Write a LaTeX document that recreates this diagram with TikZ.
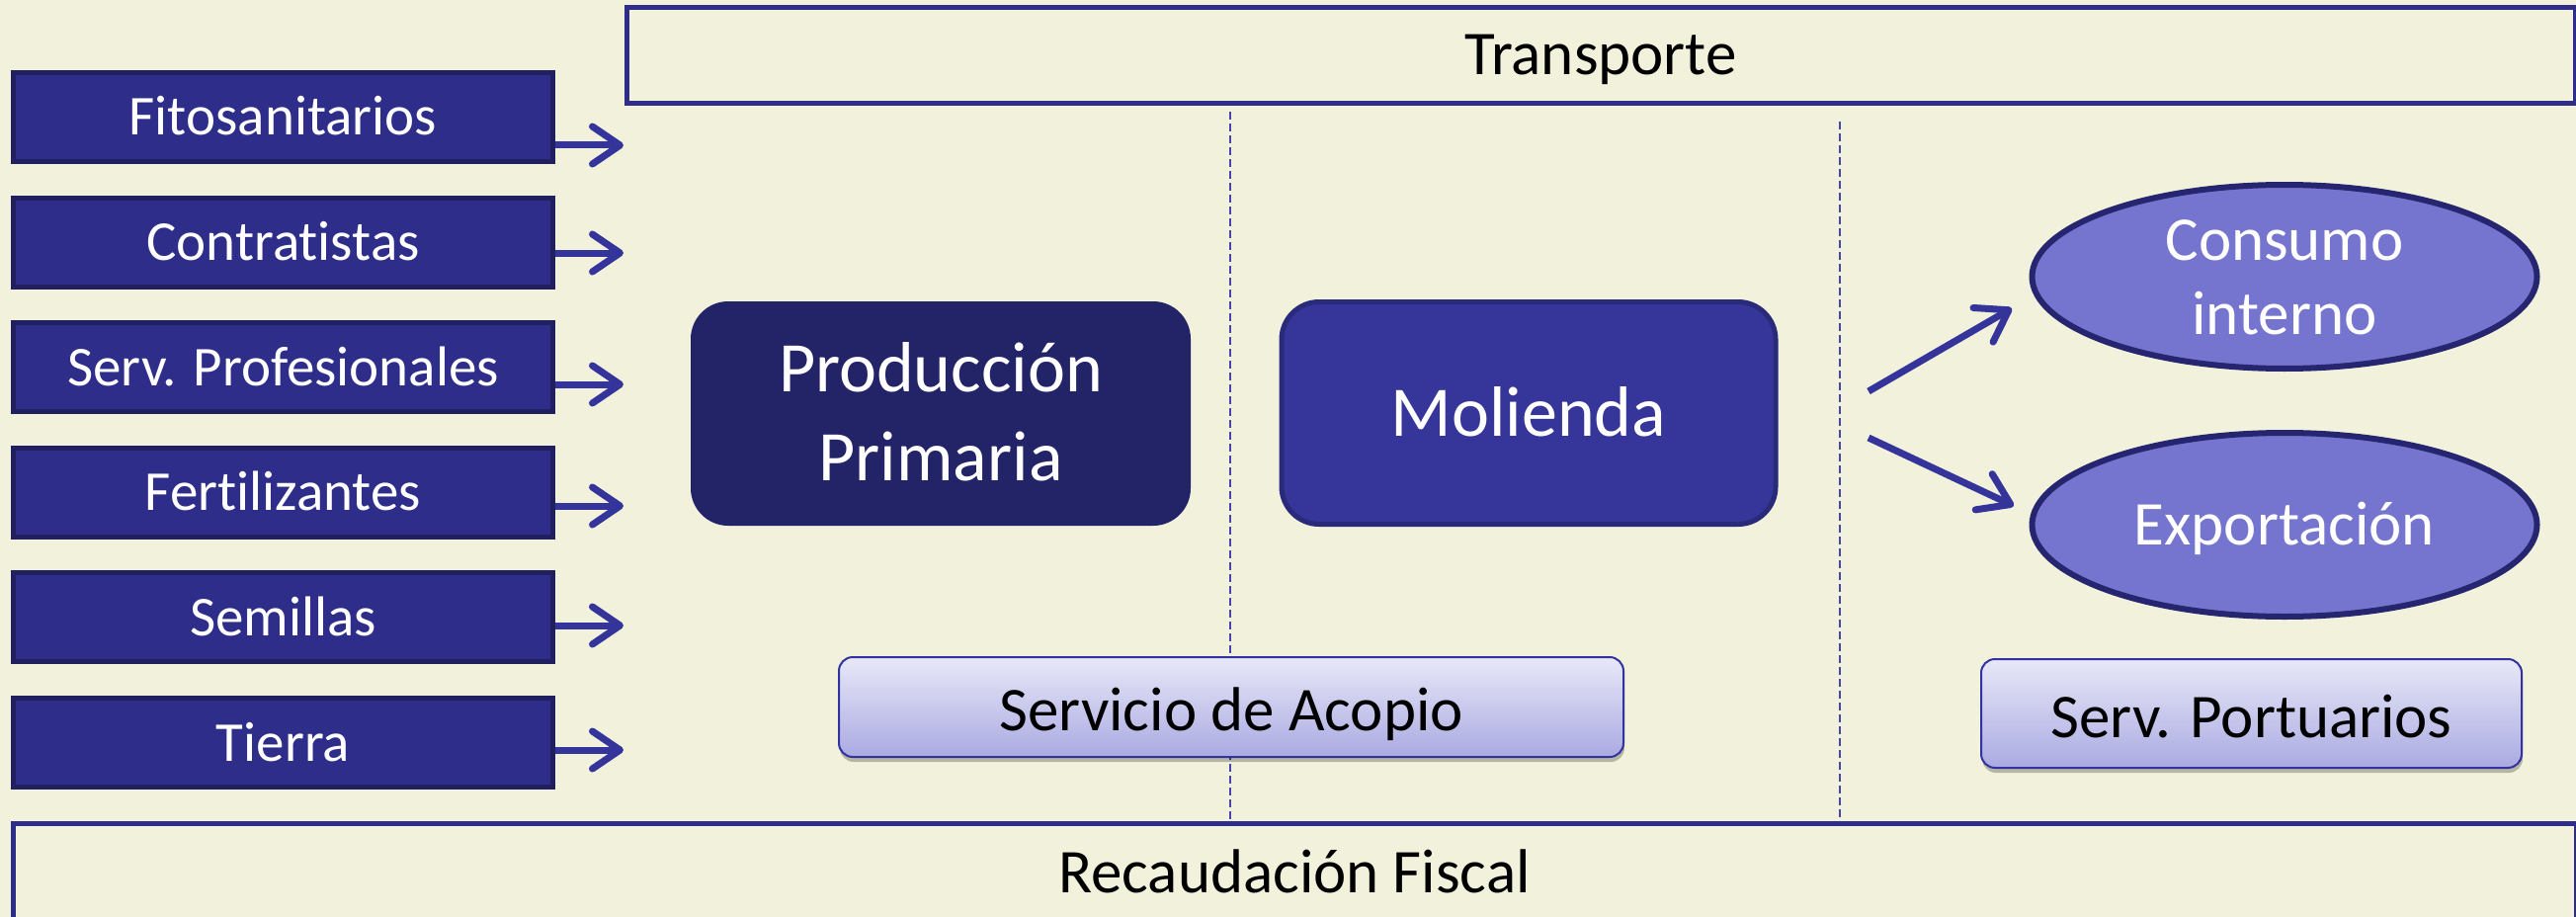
\documentclass[tikz,border=0pt]{standalone}
\usepackage{fontspec}
\setmainfont{Carlito}[Ligatures={NoCommon}]
\usetikzlibrary{arrows.meta,shapes.geometric,shadows}
\definecolor{bgcol}{RGB}{242,242,220}
\definecolor{infill}{RGB}{46,46,138}
\definecolor{inborder}{RGB}{32,32,96}
\definecolor{arrcol}{RGB}{52,52,155}
\definecolor{prodfill}{RGB}{35,35,104}
\definecolor{molfill}{RGB}{53,53,154}
\definecolor{molborder}{RGB}{42,42,122}
\definecolor{ellfill}{RGB}{117,117,207}
\definecolor{ellborder}{RGB}{38,38,112}
\definecolor{gradtop}{RGB}{232,232,248}
\definecolor{gradbot}{RGB}{170,170,226}
\definecolor{gradborder}{RGB}{50,50,160}
\definecolor{dashcol}{RGB}{70,70,170}
\tikzset{
  inbox/.style={draw=inborder, line width=5pt, fill=infill, text=white,
    minimum width=546pt, minimum height=90pt, inner sep=0pt,
    font=\fontsize{57}{68}\selectfont, text height=37pt, text depth=0pt},
  inarrow/.style={draw=arrcol, line width=7pt, -{Straight Barb[length=28pt,width=38pt,round]}},
  outarrow/.style={draw=arrcol, line width=7pt, -{Straight Barb[length=30pt,width=40pt,round]}},
  band/.style={draw=infill, line width=5pt, fill=bgcol, text=black, inner sep=0pt,
    font=\fontsize{63}{76}\selectfont, text height=40pt, text depth=0pt},
  divider/.style={draw=dashcol, line width=1.6pt, dash pattern=on 8pt off 4pt},
  bigbox/.style={rounded corners=38pt, inner sep=0pt, text=white, align=center,
    font=\fontsize{72}{90}\selectfont, text height=46pt, text depth=0pt},
  market/.style={ellipse, draw=ellborder, line width=6pt, fill=ellfill, text=white,
    inner sep=0pt, minimum width=511pt, minimum height=186pt, align=center,
    font=\fontsize{63}{75}\selectfont, text height=41pt, text depth=0pt},
  service/.style={rounded corners=14pt, draw=gradborder, line width=2pt,
    top color=gradtop, bottom color=gradbot, text=black, inner sep=0pt,
    font=\fontsize{63}{76}\selectfont, text depth=0pt,
    drop shadow={shadow xshift=1pt, shadow yshift=-5pt, fill=black, opacity=0.25}},
}
\begin{document}
\begin{tikzpicture}[x=1pt,y=-1pt]
\useasboundingbox (0,0) rectangle (2607,928);
\fill[bgcol] (0,0) rectangle (2607,928);

% bands
\node[band, minimum width=1972pt, minimum height=96.5pt] (trans) at (1620,56) {Transporte};
\node[band, minimum width=2594pt, minimum height=100pt] (fisc) at (1310,883) {Recaudación Fiscal};

% dividers
\coordinate (d1) at (1245,113);
\coordinate (d2) at (1862,123);
\draw[divider] (d1) -- (d1 |- fisc.north);
\draw[divider] (d2) -- (d2 |- fisc.north);

% inputs
\node[inbox] (f1) at (286.5,118.5) {Fitosanitarios};
\node[inbox] (f2) at (286.5,245.1) {Contratistas};
\node[inbox] (f3) at (286.5,371.7) {Serv. Profesionales};
\node[inbox] (f4) at (286.5,498.3) {Fertilizantes};
\node[inbox] (f5) at (286.5,624.9) {Semillas};
\node[inbox] (f6) at (286.5,751.5) {Tierra};

\coordinate (a1) at (631,147);
\coordinate (a2) at (631,256);
\coordinate (a3) at (631,389);
\coordinate (a4) at (631,512);
\coordinate (a5) at (631,633);
\coordinate (a6) at (631,759);
\draw[inarrow] (f1.east |- a1) -- (a1);
\draw[inarrow] (f2.east |- a2) -- (a2);
\draw[inarrow] (f3.east |- a3) -- (a3);
\draw[inarrow] (f4.east |- a4) -- (a4);
\draw[inarrow] (f5.east |- a5) -- (a5);
\draw[inarrow] (f6.east |- a6) -- (a6);

% main stages
\node[bigbox, fill=prodfill, minimum width=506pt, minimum height=227pt, text height=136pt] (prod) at (952,418.5) {Producción\\Primaria};
\node[bigbox, draw=molborder, line width=5pt, fill=molfill, minimum width=500pt, minimum height=225pt] (mol) at (1547,418) {Molienda};

% services
\node[service, minimum width=794pt, minimum height=101pt, text height=47pt] (acop) at (1246,715.5) {Servicio de Acopio};
\node[service, minimum width=547pt, minimum height=110pt, text height=48pt] (port) at (2278.5,722) {Serv. Portuarios};

% markets
\node[market, text height=116pt] (cons) at (2312,280) {Consumo\\interno};
\node[market] (expo) at (2312,531) {Exportación};

\coordinate (o1s) at (1891,396);
\coordinate (o1e) at (2036,312);
\coordinate (o2s) at (1891,443);
\coordinate (o2e) at (2038,512);
\draw[outarrow] (o1s) -- (o1e);
\draw[outarrow] (o2s) -- (o2e);
\end{tikzpicture}
\end{document}
